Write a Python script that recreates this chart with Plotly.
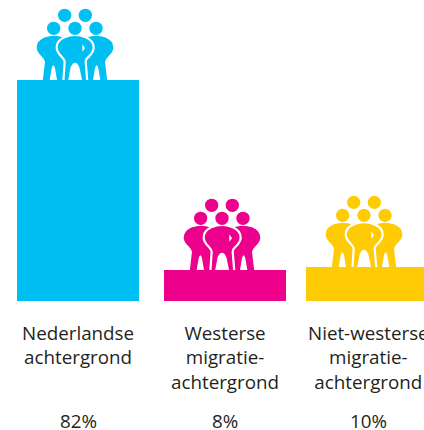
import plotly.graph_objects as go

# ---- data ----
categories = ["Nederlandse<br>achtergrond", "Westerse<br>migratie-<br>achtergrond", "Niet-westerse<br>migratie-<br>achtergrond"]
percent_labels = ["82%", "8%", "10%"]
# bar heights as drawn in the picture (the short bars are drawn taller than their labels)
bar_heights = [82, 11.5, 12.6]
colors = ["#00BFF3", "#EC008C", "#FFCB05"]

# ---- layout constants ----
W, H = 424, 430
BASE_PX = 301
PX_PER_UNIT = 221 / 82
BAR_CENTERS = [78, 225, 367]
TEXT_CENTERS = [78, 225, 368]
BAR_WIDTH = 122
FONT = "Open Sans"
FONT_SIZE = 18.8
TEXT = "#231F20"

def Y(px):
    return (BASE_PX - px) / PX_PER_UNIT

def pt(x, y, cx, base):
    # icon drawn in zoomed units: centre 165, bottom 240, scale 3
    return cx + (x - 165) / 3, Y(base + (y - 240) / 3)

def path(cmds, cx, base, mirror=False):
    out = []
    for c, coords in cmds:
        p = []
        for i in range(0, len(coords), 2):
            x = 330 - coords[i] if mirror else coords[i]
            px, py = pt(x, coords[i + 1], cx, base)
            p.append(f"{px:.2f},{py:.3f}")
        out.append(c + " ".join(p))
    return " ".join(out) + " Z"

CENTER = [("M", [130, 245]), ("L", [134, 185]), ("Q", [133, 178, 125, 170]), ("Q", [110, 155, 110, 143]),
          ("Q", [110, 122, 133, 112]), ("Q", [150, 105, 165, 105]), ("Q", [180, 105, 197, 112]),
          ("Q", [221, 122, 221, 143]), ("Q", [221, 155, 206, 170]), ("Q", [197, 178, 197, 185]),
          ("L", [202, 245]), ("L", [184, 245]), ("L", [175, 203]), ("Q", [165, 180, 155, 203]), ("L", [147, 245])]
SIDE = [("M", [68, 245]), ("L", [75, 185]), ("Q", [74, 178, 66, 170]), ("Q", [50, 155, 50, 143]),
        ("Q", [50, 122, 75, 112]), ("Q", [90, 107, 102, 107]), ("Q", [115, 107, 130, 112]),
        ("L", [165, 150]), ("L", [145, 245]), ("L", [112, 245]), ("L", [105, 205]),
        ("Q", [100, 186, 95, 205]), ("L", [88, 245])]
GAP = [("M", [187, 133]), ("L", [195, 145]), ("L", [187, 155])]
HEADS = [(134, 46, 20), (196, 46, 20), (101, 85, 20), (165, 85, 20), (228, 85, 20)]

shapes = []
for center, h, col in zip(BAR_CENTERS, bar_heights, colors):
    cx = center - 3
    base = BASE_PX - h * PX_PER_UNIT
    shapes.append(dict(type="path", path=path(SIDE, cx, base), fillcolor=col, line_width=0, layer="below"))
    shapes.append(dict(type="path", path=path(SIDE, cx, base, True), fillcolor=col, line_width=0, layer="below"))
    shapes.append(dict(type="path", path=path(CENTER, cx, base), fillcolor=col,
                       line=dict(color="white", width=2.2), layer="below"))
    shapes.append(dict(type="path", path=path(GAP, cx, base), fillcolor="white", line_width=0, layer="below"))
    for (hx, hy, r) in HEADS:
        x0, y0 = pt(hx - r, hy - r, cx, base)
        x1, y1 = pt(hx + r, hy + r, cx, base)
        shapes.append(dict(type="circle", xref="x", yref="y", x0=x0, x1=x1, y0=y0, y1=y1,
                           fillcolor=col, line_width=0, layer="below"))

fig = go.Figure(go.Bar(x=BAR_CENTERS, y=bar_heights, width=BAR_WIDTH, marker=dict(color=colors, line_width=0),
                       hoverinfo="skip"))

annotations = []
for center, cat, pct in zip(TEXT_CENTERS, categories, percent_labels):
    annotations.append(dict(x=center, y=1 - 317.5 / H, xref="x", yref="paper", text=cat, showarrow=False,
                            xanchor="center", yanchor="top", align="center",
                            font=dict(family=FONT, size=FONT_SIZE, color=TEXT)))
    annotations.append(dict(x=center, y=1 - 420.5 / H, xref="x", yref="paper", text=pct, showarrow=False,
                            xanchor="center", yanchor="middle", align="center",
                            font=dict(family=FONT, size=FONT_SIZE, color=TEXT)))

fig.update_layout(width=W, height=H, margin=dict(l=0, r=0, t=0, b=0), autosize=False,
                  paper_bgcolor="white", plot_bgcolor="rgba(0,0,0,0)", showlegend=False,
                  xaxis=dict(range=[0, W], visible=False, fixedrange=True),
                  yaxis=dict(range=[Y(H), Y(0)], visible=False, fixedrange=True),
                  shapes=shapes, annotations=annotations)

fig.write_html("out.html", config={"displayModeBar": False, "responsive": False},
               post_script="document.body.style.margin='0';document.body.style.overflow='hidden';")
